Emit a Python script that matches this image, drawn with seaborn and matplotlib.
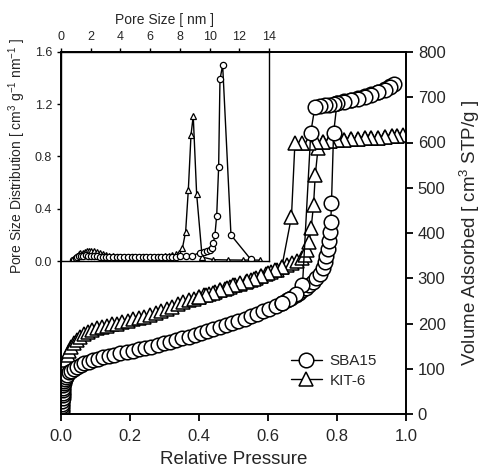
import matplotlib
matplotlib.use("Agg")
import matplotlib.pyplot as plt
import seaborn as sns
import numpy as np

# ---- isotherm data (relative pressure, volume adsorbed cm3 STP/g) ----
sba_ads_p = [0.002, 0.0025, 0.003, 0.0035, 0.004, 0.0045, 0.005, 0.0055, 0.006, 0.0065,
             0.007, 0.008, 0.009, 0.011, 0.014, 0.018, 0.024, 0.03, 0.038, 0.047,
             0.057, 0.068, 0.08, 0.093, 0.107, 0.122, 0.138, 0.155, 0.172, 0.19,
             0.208, 0.226, 0.244, 0.262, 0.28, 0.298, 0.316, 0.334, 0.352, 0.37,
             0.388, 0.406, 0.424, 0.442, 0.46, 0.478, 0.496, 0.514, 0.532, 0.55,
             0.568, 0.586, 0.604, 0.622, 0.64, 0.655, 0.668, 0.68, 0.69, 0.70,
             0.71, 0.72, 0.73, 0.74, 0.75, 0.758, 0.764, 0.769, 0.773, 0.777,
             0.78, 0.782, 0.784, 0.79, 0.80, 0.82, 0.84, 0.86, 0.88, 0.90,
             0.92, 0.94, 0.955, 0.965]
sba_ads_v = [5, 11, 17, 23, 29, 35, 41, 47, 53, 58,
             63, 68, 72, 77, 82, 87, 92, 96, 100, 104,
             108, 112, 116, 119, 122, 125, 128, 131, 134, 137,
             140, 143, 146, 149, 152, 156, 159, 163, 167, 171,
             175, 179, 183, 188, 192, 197, 201, 206, 211, 216,
             221, 227, 232, 238, 245, 251, 257, 263, 268, 273,
             279, 285, 292, 300, 310, 322, 335, 350, 365, 382,
             403, 425, 466, 620, 687, 691, 695, 699, 703, 707,
             712, 718, 724, 729]
sba_des_p = [0.955, 0.94, 0.92, 0.90, 0.88, 0.86, 0.84, 0.82, 0.80, 0.79,
             0.776, 0.764, 0.75, 0.736, 0.724, 0.70, 0.68, 0.66, 0.64]
sba_des_v = [723, 717, 711, 706, 701, 697, 693, 690, 687, 685,
             683, 682, 680, 679, 622, 285, 265, 255, 246]

kit_ads_p = [0.002, 0.0025, 0.003, 0.0035, 0.004, 0.0045, 0.005, 0.0055, 0.006, 0.0065,
             0.007, 0.0075, 0.008, 0.009, 0.010, 0.012, 0.015, 0.019, 0.024, 0.03,
             0.037, 0.045, 0.055, 0.066, 0.078, 0.09, 0.104, 0.118, 0.132, 0.147,
             0.162, 0.178, 0.194, 0.21, 0.226, 0.242, 0.258, 0.274, 0.29, 0.306,
             0.322, 0.338, 0.354, 0.37, 0.385, 0.40, 0.415, 0.43, 0.445, 0.46,
             0.475, 0.49, 0.505, 0.52, 0.535, 0.55, 0.565, 0.58, 0.595, 0.61,
             0.625, 0.64, 0.655, 0.67, 0.685, 0.70, 0.708, 0.714, 0.719, 0.725,
             0.732, 0.737, 0.745, 0.76, 0.78, 0.80, 0.82, 0.84, 0.86, 0.88,
             0.90, 0.92, 0.94, 0.96, 0.975, 0.99]
kit_ads_v = [5, 12, 19, 26, 33, 40, 47, 54, 61, 68,
             75, 82, 89, 96, 103, 110, 120, 130, 140, 149,
             157, 164, 170, 176, 181, 185, 189, 192, 195, 198,
             200, 203, 206, 209, 212, 215, 219, 223, 227, 232,
             237, 242, 247, 251, 255, 258, 262, 266, 269, 273,
             277, 281, 284, 288, 292, 296, 300, 304, 309, 314,
             319, 324, 329, 334, 339, 344, 352, 362, 381, 411,
             462, 528, 587, 601, 603, 605, 606, 607, 608, 609,
             610, 611, 612, 614, 615, 616]
kit_des_p = [0.975, 0.96, 0.94, 0.92, 0.90, 0.88, 0.86, 0.84, 0.82, 0.80,
             0.78, 0.76, 0.74, 0.72, 0.70, 0.678, 0.668, 0.64, 0.62, 0.60,
             0.58, 0.56, 0.54, 0.52, 0.50, 0.48, 0.46, 0.44, 0.42, 0.40]
kit_des_v = [615, 614, 612, 611, 610, 609, 608, 607, 606, 605,
             604, 602, 601, 600, 599, 598, 436, 325, 318, 311,
             305, 299, 294, 289, 284, 278, 273, 268, 263, 258]

# ---- pore size distribution (inset) ----
sba_psd_d = [0.8, 0.9, 1.0, 1.1, 1.2, 1.35, 1.5, 1.65, 1.8, 2.0,
             2.2, 2.4, 2.6, 2.8, 3.0, 3.25, 3.5, 3.75, 4.0, 4.25,
             4.5, 4.75, 5.0, 5.25, 5.5, 5.75, 6.0, 6.25, 6.5, 6.75,
             7.0, 7.25, 7.5, 7.75, 8.0, 8.41, 8.79, 9.35, 9.62, 9.8,
             10.0, 10.14, 10.25, 10.36, 10.48, 10.61, 10.70, 10.88, 11.44, 12.77]
sba_psd_v = [0.005, 0.01, 0.02, 0.03, 0.035, 0.04, 0.042, 0.043, 0.042, 0.04,
             0.037, 0.035, 0.033, 0.031, 0.03, 0.029, 0.028, 0.028, 0.027, 0.027,
             0.027, 0.027, 0.027, 0.027, 0.027, 0.028, 0.028, 0.028, 0.029, 0.029,
             0.03, 0.03, 0.031, 0.033, 0.035, 0.04, 0.038, 0.065, 0.072, 0.077,
             0.084, 0.097, 0.135, 0.199, 0.347, 0.717, 1.39, 1.50, 0.199, 0.013]
kit_psd_d = [0.8, 0.9, 1.0, 1.1, 1.2, 1.3, 1.45, 1.6, 1.75, 1.9,
             2.05, 2.2, 2.4, 2.6, 2.8, 3.0, 3.25, 3.5, 3.75, 4.0,
             4.25, 4.5, 4.75, 5.0, 5.25, 5.5, 5.75, 6.0, 6.25, 6.5,
             6.75, 7.0, 7.25, 7.5, 7.75, 7.95, 8.17, 8.39, 8.57, 8.75,
             8.90, 9.13, 9.5, 10.25, 11.26, 12.22, 13.4]
kit_psd_v = [0.005, 0.012, 0.025, 0.04, 0.05, 0.058, 0.065, 0.07, 0.074, 0.075,
             0.075, 0.073, 0.068, 0.06, 0.052, 0.045, 0.04, 0.036, 0.034, 0.032,
             0.031, 0.03, 0.03, 0.03, 0.03, 0.03, 0.031, 0.031, 0.032, 0.033,
             0.034, 0.036, 0.04, 0.045, 0.05, 0.06, 0.097, 0.225, 0.544, 0.965,
             1.11, 0.513, 0.03, 0.01, 0.008, 0.007, 0.007]

sns.set_style("ticks")
plt.rcParams['font.family'] = ['Liberation Sans', 'DejaVu Sans']
plt.rcParams['mathtext.default'] = 'regular'

fig = plt.figure(figsize=(4.81, 4.70), dpi=100)
ax = fig.add_axes([61 / 481, 1 - 414 / 470, 345 / 481, 362 / 470])

big_o = dict(marker='o', markersize=10.5, markerfacecolor='white', markeredgecolor='black',
             markeredgewidth=1.1, color='black', linewidth=1)
big_t = dict(marker='^', markersize=9.5, markerfacecolor='white', markeredgecolor='black',
             markeredgewidth=1.1, color='black', linewidth=1)

sns.lineplot(x=kit_ads_p + kit_des_p, y=kit_ads_v + kit_des_v, sort=False, estimator=None,
             ax=ax, label='KIT-6', **big_t)
sns.lineplot(x=sba_ads_p + sba_des_p, y=sba_ads_v + sba_des_v, sort=False, estimator=None,
             ax=ax, label='SBA15', **big_o)

ax.set_xlim(0, 1.0)
ax.set_ylim(0, 800)
ax.set_xticks(np.arange(0, 1.01, 0.2))
ax.set_xticklabels([f"{t:.1f}" for t in np.arange(0, 1.01, 0.2)])
ax.set_yticks(np.arange(0, 801, 100))
ax.yaxis.tick_right()
ax.yaxis.set_label_position('right')
ax.tick_params(axis='both', labelsize=12, width=1.3, length=5, direction='out', color='black')
ax.tick_params(axis='x', pad=6)
ax.set_xlabel('Relative Pressure', fontsize=13.5)
ax.xaxis.set_label_coords(0.5, -0.103)
ax.set_ylabel('Volume Adsorbed [ cm$^3$ STP/g ]', fontsize=13.5, labelpad=9)
for s in ax.spines.values():
    s.set_linewidth(1.4)
    s.set_color('black')

h, l = ax.get_legend_handles_labels()
ax.legend(h[::-1], l[::-1], frameon=False, fontsize=11, loc='lower right',
          bbox_to_anchor=(0.955, 0.035), handlelength=2.0, handletextpad=0.5, labelspacing=0.35)

# ---- inset ----
ins = fig.add_axes([61 / 481, 1 - 261 / 470, 208 / 481, 209 / 470])
small_o = dict(marker='o', markersize=4.5, markerfacecolor='white', markeredgecolor='black',
               markeredgewidth=0.9, color='black', linewidth=1)
small_t = dict(marker='^', markersize=4.5, markerfacecolor='white', markeredgecolor='black',
               markeredgewidth=0.9, color='black', linewidth=1)
sns.lineplot(x=kit_psd_d, y=kit_psd_v, sort=False, estimator=None, ax=ins, **small_t)
sns.lineplot(x=sba_psd_d, y=sba_psd_v, sort=False, estimator=None, ax=ins, **small_o)
ins.set_xlim(0, 14)
ins.set_ylim(0, 1.6)
ins.set_xticks(np.arange(0, 15, 2))
ins.set_yticks(np.arange(0, 1.61, 0.4))
ins.set_yticklabels([f"{t:.1f}" for t in np.arange(0, 1.61, 0.4)])
ins.xaxis.tick_top()
ins.xaxis.set_label_position('top')
ins.tick_params(axis='both', labelsize=9, width=1, length=3, direction='out', color='black')
ins.set_xlabel('Pore Size [ nm ]', fontsize=10, labelpad=5)
ins.set_ylabel('Pore Size Distribution [ cm$^3$ g$^{-1}$ nm$^{-1}$ ]', fontsize=10, labelpad=5)
for s in ins.spines.values():
    s.set_linewidth(1.0)
    s.set_color('black')

plt.savefig('out.png', dpi=100)
plt.close()
